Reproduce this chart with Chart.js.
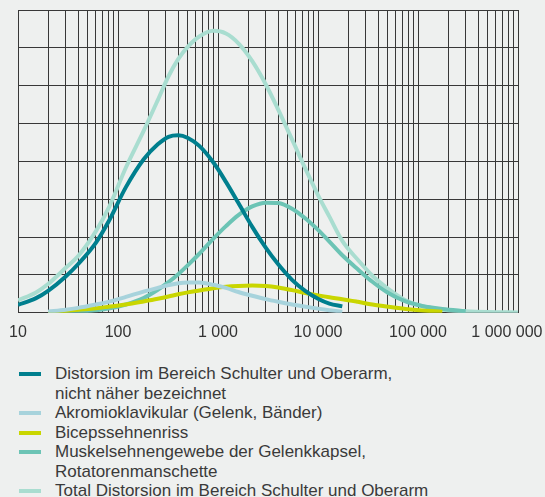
<!DOCTYPE html>
<html>
<head>
<meta charset="utf-8">
<script src="https://cdn.jsdelivr.net/npm/chart.js@4"></script>
<style>
  body { margin: 0; background: #eef0ef; }
  #wrap { position: relative; width: 545px; height: 497px; overflow: hidden; font-family: "Liberation Sans", Arial, sans-serif; }
  #chart { position: absolute; left: 0; top: 0; }
  #legende { position: absolute; left: 0; top: 364px; margin: 0; padding: 0; list-style: none; color: #3a3a3a; font-size: 17px; line-height: 19.5px; }
  #legende li { position: relative; padding-left: 55px; }
  #legende li span.strich { position: absolute; left: 19px; top: 8px; width: 22px; height: 4px; }
</style>
</head>
<body>
<div id="wrap">
  <canvas id="chart" width="545" height="352"></canvas>
  <ul id="legende"></ul>
</div>
<script>
// x-Werte (logarithmische Achse)
const xWerte = [10, 15, 20, 30, 40, 60, 80, 120, 180, 250, 320, 400, 500, 650, 900, 1200, 1600, 2200,
  3000, 4000, 5500, 7500, 10000, 13000, 17500, 25000, 35000, 50000, 75000, 110000, 175000, 300000, 500000, 1000000];

// Kurven (null = keine Linie)
const distorsion = [0.21, 0.38, 0.58, 0.96, 1.29, 1.85, 2.40, 3.32, 4.05, 4.45, 4.65, 4.69, 4.62, 4.41, 3.97, 3.46, 2.90, 2.27,
  1.72, 1.28, 0.87, 0.57, 0.37, 0.24, 0.17, null, null, null, null, null, null, null, null, null];
const akromio = [null, null, 0.03, 0.08, 0.13, 0.22, 0.29, 0.42, 0.56, 0.66, 0.73, 0.78, 0.80, 0.80, 0.74, 0.66, 0.55, 0.45,
  0.36, 0.29, 0.22, 0.16, 0.11, 0.07, 0.03, null, null, null, null, null, null, null, null, null];
const biceps = [null, null, 0.01, 0.05, 0.08, 0.12, 0.16, 0.22, 0.30, 0.37, 0.43, 0.49, 0.54, 0.59, 0.65, 0.69, 0.71, 0.72,
  0.71, 0.67, 0.60, 0.52, 0.46, 0.41, 0.36, 0.29, 0.22, 0.16, 0.10, 0.06, 0.03, null, null, null];
const muskel = [null, null, 0.01, 0.02, 0.03, 0.07, 0.11, 0.22, 0.39, 0.61, 0.81, 1.02, 1.26, 1.56, 1.96, 2.29, 2.58, 2.81,
  2.91, 2.90, 2.75, 2.49, 2.19, 1.88, 1.52, 1.15, 0.82, 0.53, 0.30, 0.18, 0.10, 0.04, null, null];
const total = [0.33, 0.53, 0.76, 1.19, 1.50, 2.15, 2.75, 3.84, 4.80, 5.62, 6.25, 6.70, 7.03, 7.30, 7.45, 7.38, 7.12, 6.65,
  6.04, 5.37, 4.58, 3.80, 3.11, 2.54, 1.90, 1.40, 0.98, 0.64, 0.33, 0.18, 0.08, 0.04, 0.02, 0.01];

// Beschriftung der x-Achse
const tickWerte = [10, 100, 1000, 10000, 100000, 1000000];
const tickTexte = ['10', '100', '1\u00a0000', '10\u00a0000', '100\u00a0000', '1\u00a0000\u00a0000\u00a0\u00a0\u00a0\u00a0\u00a0'];

const namen = [
  ['Distorsion im Bereich Schulter und Oberarm,', 'nicht näher bezeichnet'],
  ['Akromioklavikular (Gelenk, Bänder)'],
  ['Bicepssehnenriss'],
  ['Muskelsehnengewebe der Gelenkkapsel,', 'Rotatorenmanschette'],
  ['Total Distorsion im Bereich Schulter und Oberarm']
];
const farben = ['#007f8e', '#a7d3dc', '#c9d600', '#6cc4b5', '#a9ddd0'];
const reihen = [distorsion, akromio, biceps, muskel, total];

// Gitterlinien 1..9 pro Dekade
const gitter = [];
for (let e = 1; e < 6; e++) {
  for (let d = 1; d < 10; d++) gitter.push(d * Math.pow(10, e));
}
gitter.push(1000000);

const datasets = reihen.map((werte, i) => ({
  label: namen[i].join(' '),
  data: xWerte.map((x, j) => ({ x: x, y: werte[j] })).filter(p => p.y !== null),
  borderColor: farben[i],
  backgroundColor: farben[i],
  borderWidth: 4,
  pointRadius: 0,
  fill: false,
  cubicInterpolationMode: 'monotone'
}));

new Chart(document.getElementById('chart'), {
  type: 'line',
  data: { datasets: datasets },
  options: {
    responsive: false,
    animation: false,
    events: [],
    layout: { autoPadding: false, padding: { left: 18, right: 27, top: 10, bottom: 0 } },
    plugins: { legend: { display: false }, tooltip: { enabled: false } },
    scales: {
      x: {
        type: 'logarithmic',
        min: 10,
        max: 1000000,
        afterBuildTicks: scale => { scale.ticks = gitter.map(v => ({ value: v })); },
        // keine automatische Randpolsterung wegen der letzten Beschriftung
        afterFit: scale => { scale.paddingLeft = 0; scale.paddingRight = 0; },
        grid: { color: '#383838', lineWidth: 1, drawTicks: false },
        border: { color: '#383838' },
        ticks: {
          autoSkip: false,
          maxRotation: 0,
          padding: 10,
          color: '#333',
          font: { family: '"Liberation Sans", Arial, sans-serif', size: 16 },
          callback: v => {
            const k = tickWerte.indexOf(v);
            return k >= 0 ? tickTexte[k] : '';
          }
        }
      },
      y: {
        min: 0,
        max: 8,
        grid: { color: '#383838', lineWidth: 1, drawTicks: false },
        border: { color: '#383838' },
        ticks: { display: false, stepSize: 1 }
      }
    }
  }
});

// Legende als HTML
const ul = document.getElementById('legende');
namen.forEach((zeilen, i) => {
  const li = document.createElement('li');
  li.innerHTML = '<span class="strich" style="background:' + farben[i] + '"></span>' + zeilen.join('<br>');
  ul.appendChild(li);
});
</script>
</body>
</html>
